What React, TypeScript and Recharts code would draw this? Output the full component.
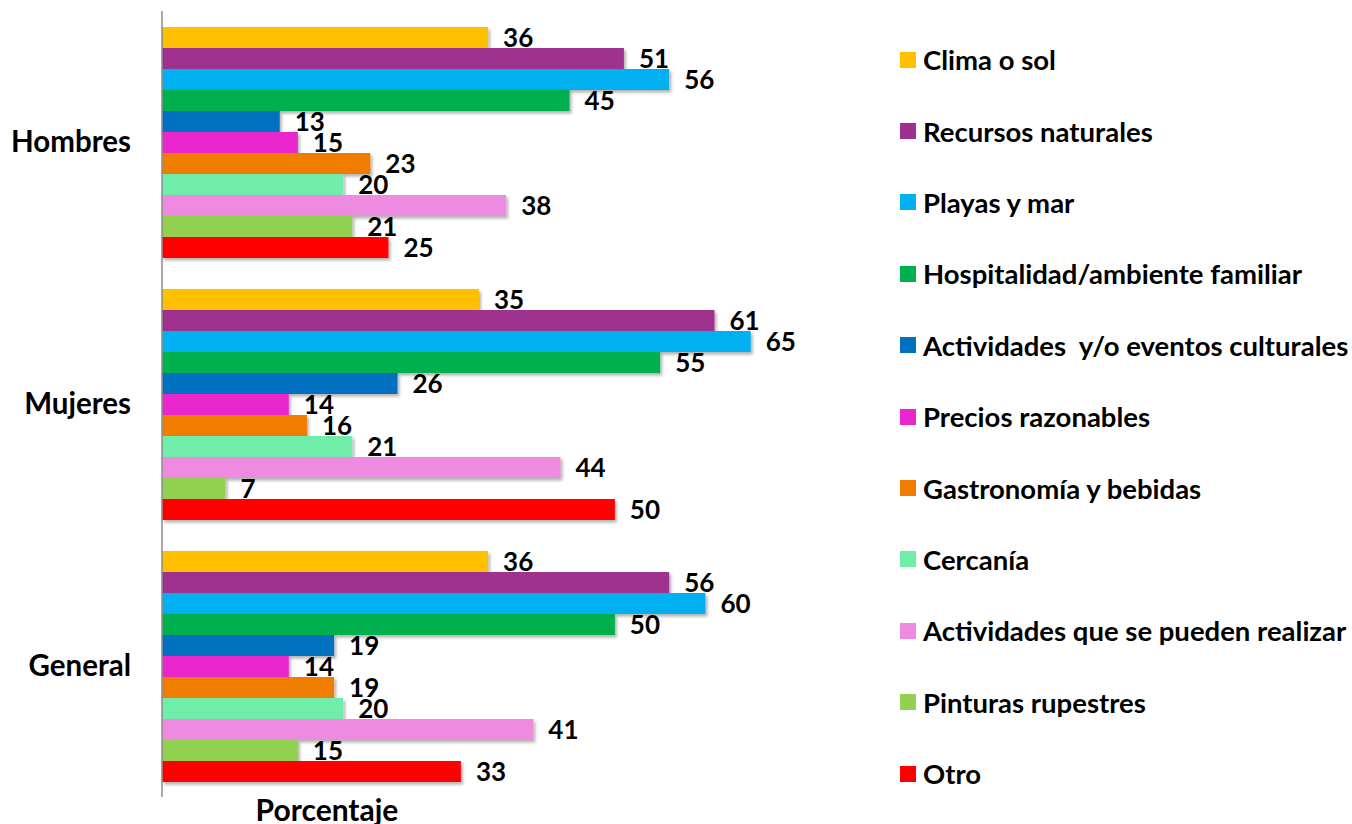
import React from 'react';
import { BarChart, Bar, XAxis, YAxis, LabelList } from 'recharts';

const categories = ['Hombres', 'Mujeres', 'General'];

const seriesNames = [
  'Clima o sol',
  'Recursos naturales',
  'Playas y mar',
  'Hospitalidad/ambiente familiar',
  'Actividades  y/o eventos culturales',
  'Precios razonables',
  'Gastronomía y bebidas',
  'Cercanía',
  'Actividades que se pueden realizar',
  'Pinturas rupestres',
  'Otro',
];

const seriesColors = [
  '#FFC000',
  '#A0308F',
  '#00B0F0',
  '#00B050',
  '#0070C0',
  '#E926CB',
  '#F07C00',
  '#6FEDA9',
  '#EE8ADF',
  '#92D050',
  '#FF0000',
];

const climaSol = [36, 35, 36];
const recursosNaturales = [51, 61, 56];
const playasMar = [56, 65, 60];
const hospitalidad = [45, 55, 50];
const actividadesCulturales = [13, 26, 19];
const preciosRazonables = [15, 14, 14];
const gastronomia = [23, 16, 19];
const cercania = [20, 21, 20];
const actividadesRealizar = [38, 44, 41];
const pinturasRupestres = [21, 7, 15];
const otro = [25, 50, 33];

const seriesValues = [
  climaSol,
  recursosNaturales,
  playasMar,
  hospitalidad,
  actividadesCulturales,
  preciosRazonables,
  gastronomia,
  cercania,
  actividadesRealizar,
  pinturasRupestres,
  otro,
];

const data = categories.map((name, i) => {
  const row: Record<string, string | number> = { name };
  seriesNames.forEach((s, j) => {
    row['s' + j] = seriesValues[j][i];
  });
  return row;
});

const FONT = 'Lato, "Open Sans", sans-serif';

const LegendBox = () => (
  <div
    style={{
      position: 'absolute',
      left: 900,
      top: 24,
      width: 452,
      fontFamily: FONT,
      fontWeight: 700,
      fontSize: 27.5,
      color: '#000',
    }}
  >
    {seriesNames.map((n, j) => (
      <div
        key={n}
        style={{ display: 'flex', alignItems: 'center', height: 71.4, whiteSpace: 'pre' }}
      >
        <span
          style={{
            display: 'inline-block',
            width: 16,
            height: 16,
            background: seriesColors[j],
            marginRight: 7,
            flex: 'none',
          }}
        />
        <span>{n}</span>
      </div>
    ))}
  </div>
);

const PorcentajeLabel = (props: any) => {
  const vb = props.viewBox || {};
  return (
    <text
      x={(vb.x || 0) + 165}
      y={(vb.y || 0) + 24}
      textAnchor="middle"
      fontFamily={FONT}
      fontWeight={700}
      fontSize={30}
      fill="#000"
    >
      Porcentaje
    </text>
  );
};

export default function App() {
  return (
    <div style={{ position: 'absolute', left: 0, top: 0, width: 1352, height: 824, background: '#fff' }}>
      <svg width={0} height={0} style={{ position: 'absolute' }}>
        <defs>
          <filter id="barShadow" x="-5%" y="-20%" width="115%" height="160%">
            <feDropShadow dx={2} dy={2.5} stdDeviation={1.5} floodColor="#000" floodOpacity={0.3} />
          </filter>
        </defs>
      </svg>
      <BarChart
        width={1352}
        height={824}
        data={data}
        layout="vertical"
        margin={{ top: 11, right: 556, bottom: 0, left: 0 }}
        barSize={21}
        barGap={0}
      >
        <XAxis
          type="number"
          domain={[0, 70]}
          axisLine={false}
          tickLine={false}
          tick={false}
          height={27}
          label={<PorcentajeLabel />}
        />
        <YAxis
          type="category"
          dataKey="name"
          width={162}
          axisLine={{ stroke: '#8C8C8C', strokeWidth: 1.5 }}
          tickLine={false}
          tickSize={0}
          tickMargin={31}
          tick={{ fontFamily: FONT, fontWeight: 700, fontSize: 29.5, fill: '#000' }}
        />
        {seriesNames.map((n, j) => (
          <Bar
            key={n}
            dataKey={'s' + j}
            name={n}
            fill={seriesColors[j]}
            style={{ filter: 'url(#barShadow)' }}
            isAnimationActive={false}
          >
            <LabelList
              dataKey={'s' + j}
              position="right"
              offset={15}
              style={{ fontFamily: FONT, fontWeight: 700, fontSize: 26, fill: '#000' }}
            />
          </Bar>
        ))}
      </BarChart>
      <LegendBox />
    </div>
  );
}
